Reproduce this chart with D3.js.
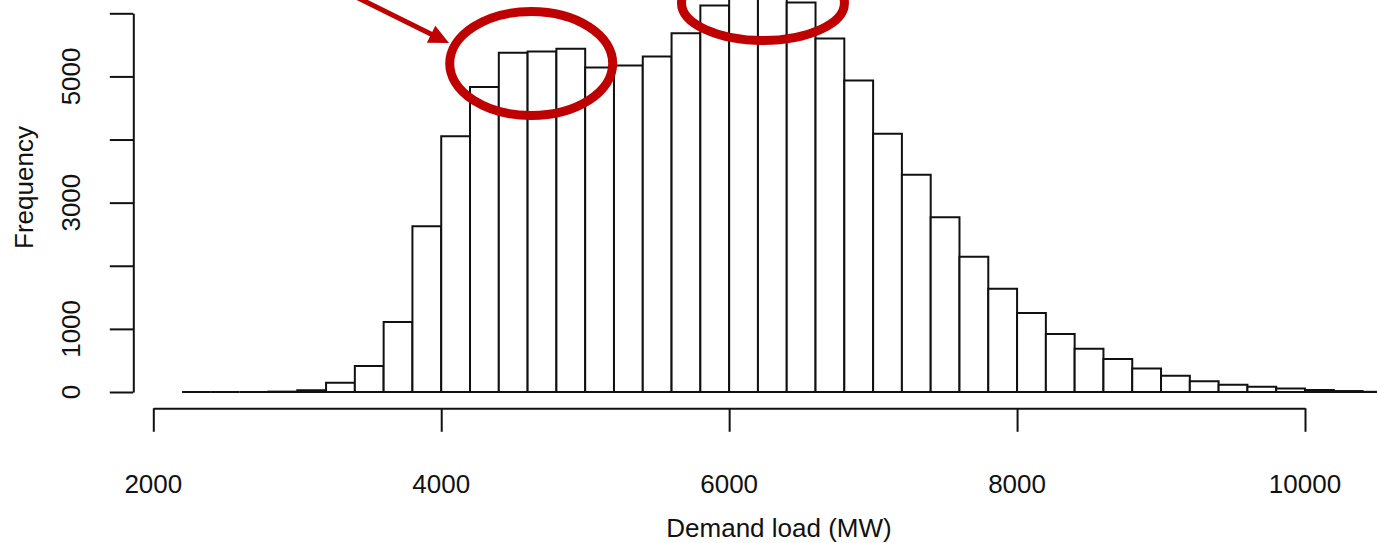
<!DOCTYPE html>
<html>
<head>
<meta charset="utf-8">
<script src="https://cdn.jsdelivr.net/npm/d3@7"></script>
<style>
  html, body { margin: 0; padding: 0; background: #fff; }
  svg { display: block; }
  text { font-family: "Liberation Sans", Arial, Helvetica, sans-serif; fill: #111; }
</style>
</head>
<body>
<svg id="chart" width="1377" height="543"></svg>
<script>
// Histogram of hourly demand load, 200 MW bins
const binLower = [2200, 2400, 2600, 2800, 3000, 3200, 3400, 3600, 3800, 4000,
                  4200, 4400, 4600, 4800, 5000, 5200, 5400, 5600, 5800, 6000,
                  6200, 6400, 6600, 6800, 7000, 7200, 7400, 7600, 7800, 8000,
                  8200, 8400, 8600, 8800, 9000, 9200, 9400, 9600, 9800, 10000,
                  10200, 10400];
const counts   = [0, 0, 0, 6, 28, 147, 411, 1108, 2627, 4051,
                  4831, 5375, 5396, 5438, 5142, 5174, 5316, 5685, 6123, 6420,
                  6480, 6171, 5601, 4937, 4093, 3444, 2769, 2141, 1635, 1250,
                  918, 686, 522, 374, 258, 169, 115, 82, 55, 33,
                  15, 3];
const binWidth = 200;

const xTicks = [2000, 4000, 6000, 8000, 10000];
const yTicks = [0, 1000, 2000, 3000, 4000, 5000, 6000];
const yTickLabels = ["0", "1000", "", "3000", "", "5000", ""];

// Highlight ellipses (centre / radii in data units)
const highlightCx = [4625, 6235];
const highlightCy = [5204, 6163];
const highlightRx = [566, 566];
const highlightRy = [824, 594];

// Pointer arrow (data units)
const arrowFrom = [3297, 6385];
const arrowTo   = [4054, 5529];

const svg = d3.select("#chart");
const x = d3.scaleLinear().domain([2000, 10000]).range([153.3, 1305]);
const y = d3.scaleLinear().domain([0, 6000]).range([392, 13.3]);

const ink = "#111";

// bars as closed outlines so that empty bins still show as a line on the baseline
svg.append("g")
  .selectAll("path")
  .data(binLower.map((b, i) => ({ b, c: counts[i] })))
  .join("path")
  .attr("d", d => {
    const xa = x(d.b), xb = x(d.b + binWidth), y0 = y(0), yt = y(d.c);
    return `M${xa},${y0}V${yt}H${xb}V${y0}Z`;
  })
  .attr("fill", "#fff")
  .attr("stroke", ink)
  .attr("stroke-width", 2);

// y axis
const yAxis = svg.append("g")
  .attr("transform", "translate(133.3,0)")
  .call(d3.axisLeft(y).tickValues(yTicks).tickSizeOuter(0).tickSizeInner(23.5).tickFormat(""));
yAxis.select(".domain").attr("stroke", ink).attr("stroke-width", 2);
yAxis.selectAll(".tick line").attr("stroke", ink).attr("stroke-width", 2);

svg.append("g")
  .selectAll("text")
  .data(yTicks.map((v, i) => ({ v, t: yTickLabels[i] })).filter(d => d.t))
  .join("text")
  .attr("transform", d => `translate(80,${y(d.v)}) rotate(-90)`)
  .attr("text-anchor", "middle")
  .attr("font-size", 26)
  .text(d => d.t);

// x axis
const xAxis = svg.append("g")
  .attr("transform", "translate(0,408.3)")
  .call(d3.axisBottom(x).tickValues(xTicks).tickSizeOuter(0).tickSizeInner(23.5).tickFormat(""));
xAxis.select(".domain").attr("stroke", ink).attr("stroke-width", 2);
xAxis.selectAll(".tick line").attr("stroke", ink).attr("stroke-width", 2);

svg.append("g")
  .selectAll("text")
  .data(xTicks)
  .join("text")
  .attr("x", d => x(d))
  .attr("y", 492.5)
  .attr("text-anchor", "middle")
  .attr("font-size", 26)
  .text(d => d);

// axis titles
svg.append("text")
  .attr("x", 779)
  .attr("y", 537)
  .attr("text-anchor", "middle")
  .attr("font-size", 26)
  .text("Demand load (MW)");

svg.append("text")
  .attr("transform", "translate(33,187.5) rotate(-90)")
  .attr("text-anchor", "middle")
  .attr("font-size", 26)
  .text("Frequency");

// annotations
const red = "#c00000";
svg.append("g")
  .selectAll("ellipse")
  .data(highlightCx.map((cx, i) => ({ cx, cy: highlightCy[i], rx: highlightRx[i], ry: highlightRy[i] })))
  .join("ellipse")
  .attr("cx", d => x(d.cx))
  .attr("cy", d => y(d.cy))
  .attr("rx", d => x(d.cx + d.rx) - x(d.cx))
  .attr("ry", d => y(d.cy - d.ry) - y(d.cy))
  .attr("fill", "none")
  .attr("stroke", red)
  .attr("stroke-width", 9);

const x0 = x(arrowFrom[0]), y0 = y(arrowFrom[1]);
const x1 = x(arrowTo[0]), y1 = y(arrowTo[1]);
const ang = Math.atan2(y1 - y0, x1 - x0);
const headLen = 20, headHalf = 9.5;
const bx = x1 - headLen * Math.cos(ang), by = y1 - headLen * Math.sin(ang);
svg.append("line")
  .attr("x1", x0).attr("y1", y0)
  .attr("x2", bx + 2 * Math.cos(ang)).attr("y2", by + 2 * Math.sin(ang))
  .attr("stroke", red)
  .attr("stroke-width", 5);
svg.append("path")
  .attr("d", d3.line()([
    [x1, y1],
    [bx - headHalf * Math.sin(ang), by + headHalf * Math.cos(ang)],
    [bx + headHalf * Math.sin(ang), by - headHalf * Math.cos(ang)]
  ]) + "Z")
  .attr("fill", red);
</script>
</body>
</html>
